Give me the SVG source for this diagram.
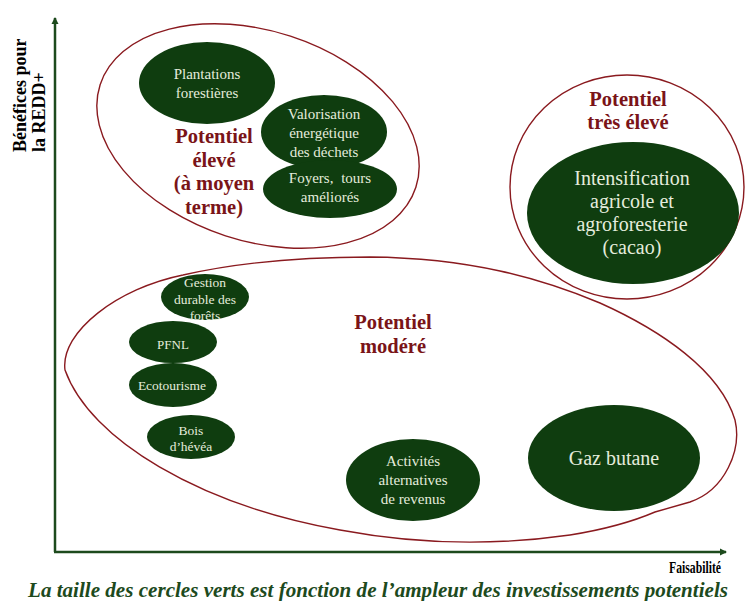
<svg xmlns="http://www.w3.org/2000/svg" width="746" height="601" viewBox="0 0 746 601">
<style>
.zone{fill:none;stroke:#8a1a1f;stroke-width:1.4}
.g{fill:#0f3d0f}
.t{font-family:"Liberation Serif","DejaVu Serif",serif;fill:#e4ecdc;text-anchor:middle}
.p{font-family:"Liberation Serif","DejaVu Serif",serif;font-weight:bold;fill:#7a1418;text-anchor:middle;font-size:20.5px}
.ax{stroke:#1d4a1d;stroke-width:2.5;fill:none}
.lab{font-family:"Liberation Serif","DejaVu Serif",serif;font-weight:bold;fill:#000}
</style>
<defs>
<marker id="ah" markerWidth="8" markerHeight="8" refX="6" refY="4" orient="auto" markerUnits="userSpaceOnUse">
<path d="M0,0.5 L7,4 L0,7.5 Z" fill="#1d4a1d"/>
</marker>
</defs>
<rect width="746" height="601" fill="#fff"/>
<g id="connectors">
<line class="ax" x1="55" y1="552" x2="55" y2="18" marker-end="url(#ah)"/>
<line class="ax" x1="54" y1="552" x2="726" y2="552" marker-end="url(#ah)"/>
</g>
<g id="zone-eleve">
<ellipse class="zone" cx="258" cy="136" rx="166" ry="105" transform="rotate(18 258 136)"/>
</g>
<g id="zone-tres-eleve">
<ellipse class="zone" cx="627" cy="187" rx="117" ry="112"/>
</g>
<g id="zone-modere">
<path class="zone" d="M370,257 C470,258 540,278 600,303 C660,330 720,370 735,420 C742,450 725,490 690,502 L655,512 Q620,527 570,535 C500,545 420,545 340,530 C200,505 90,440 65,370 C60,332 118,288 183,275 C240,262 300,257 370,257 Z"/>
</g>
<g id="plantations">
<ellipse class="g" cx="207" cy="83" rx="68" ry="41"/>
<text class="t" font-size="15" x="207" y="79">Plantations</text>
<text class="t" font-size="15" x="207" y="98">forestières</text>
</g>
<g id="valorisation">
<ellipse class="g" cx="324" cy="132" rx="63" ry="37"/>
<text class="t" font-size="15" x="324" y="119">Valorisation</text>
<text class="t" font-size="15" x="324" y="138">énergétique</text>
<text class="t" font-size="15" x="324" y="157">des déchets</text>
</g>
<g id="foyers">
<ellipse class="g" cx="330" cy="189" rx="67" ry="29"/>
<text class="t" font-size="15" x="330" y="183" word-spacing="4">Foyers, tours</text>
<text class="t" font-size="15" x="330" y="202">améliorés</text>
</g>
<g id="label-eleve">
<text class="p" x="214" y="143">Potentiel</text>
<text class="p" x="214" y="167">élevé</text>
<text class="p" x="214" y="190">(à moyen</text>
<text class="p" x="214" y="214">terme)</text>
</g>
<g id="label-tres-eleve">
<text class="p" x="628" y="106">Potentiel</text>
<text class="p" x="628" y="129">très élevé</text>
</g>
<g id="intensification">
<ellipse class="g" cx="633" cy="213" rx="106" ry="71"/>
<text class="t" font-size="20" x="632" y="185">Intensification</text>
<text class="t" font-size="20" x="632" y="208">agricole et</text>
<text class="t" font-size="20" x="632" y="231">agroforesterie</text>
<text class="t" font-size="20" x="632" y="254">(cacao)</text>
</g>
<g id="label-modere">
<text class="p" x="393" y="329">Potentiel</text>
<text class="p" x="393" y="353">modéré</text>
</g>
<g id="gestion">
<ellipse class="g" cx="205" cy="297" rx="44" ry="23"/>
<text class="t" font-size="13.5" x="205" y="287">Gestion</text>
<text class="t" font-size="13.5" x="205" y="304">durable des</text>
<text class="t" font-size="13.5" x="205" y="320">forêts</text>
</g>
<g id="pfnl">
<ellipse class="g" cx="173" cy="342" rx="44" ry="21"/>
<text class="t" font-size="13" x="173" y="349">PFNL</text>
</g>
<g id="ecotourisme">
<ellipse class="g" cx="173" cy="385" rx="44" ry="22"/>
<text class="t" font-size="13.5" x="172" y="390">Ecotourisme</text>
</g>
<g id="bois">
<ellipse class="g" cx="191" cy="437" rx="44" ry="22"/>
<text class="t" font-size="13.5" x="191" y="435">Bois</text>
<text class="t" font-size="13.5" x="191" y="451">d’hévéa</text>
</g>
<g id="activites">
<ellipse class="g" cx="413" cy="480" rx="67" ry="41"/>
<text class="t" font-size="15" x="413" y="466">Activités</text>
<text class="t" font-size="15" x="413" y="485">alternatives</text>
<text class="t" font-size="15" x="413" y="504">de revenus</text>
</g>
<g id="gaz">
<ellipse class="g" cx="614" cy="458" rx="86" ry="53"/>
<text class="t" font-size="20" x="614" y="465">Gaz butane</text>
</g>
<g id="axis-labels">
<text class="lab" font-size="18" transform="translate(26,152) rotate(-90)">Bénéfices pour</text>
<text class="lab" font-size="18" transform="translate(45,152) rotate(-90)">la REDD+</text>
<text class="lab" font-size="16" x="669" y="573" textLength="52" lengthAdjust="spacingAndGlyphs">Faisabilité</text>
</g>
<g id="caption">
<text x="28" y="597" font-family="'Liberation Serif','DejaVu Serif',serif" font-weight="bold" font-style="italic" font-size="20" fill="#1d4a1d" textLength="700" lengthAdjust="spacingAndGlyphs">La taille des cercles verts est fonction de l’ampleur des investissements potentiels</text>
</g>
</svg>
